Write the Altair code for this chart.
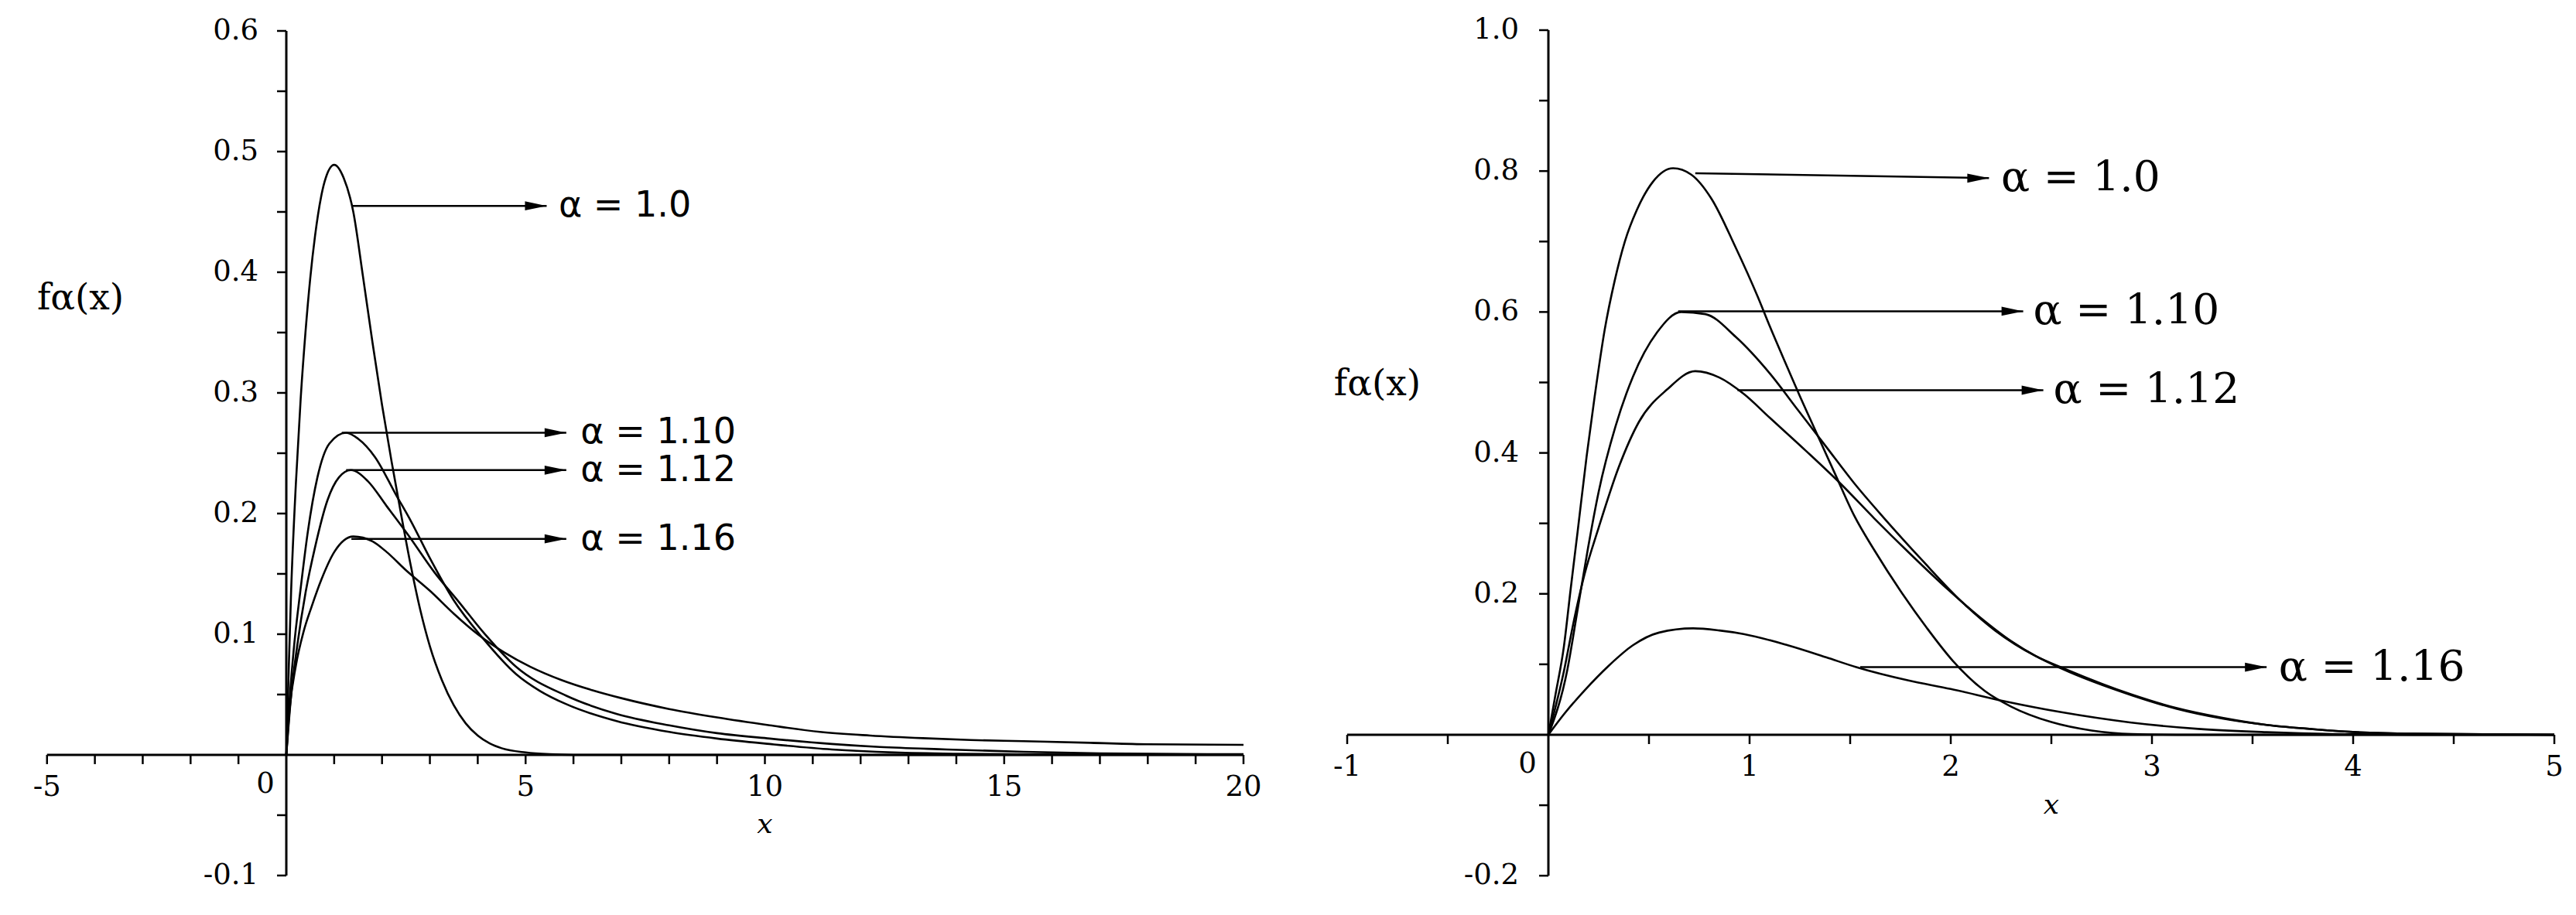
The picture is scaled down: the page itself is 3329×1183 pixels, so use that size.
import altair as alt
import pandas as pd

# ---------------- data: left panel ----------------
L_x_100 = [0, 0.05, 0.1, 0.2, 0.3, 0.4, 0.5, 0.6, 0.8, 1.0, 1.2, 1.4, 1.6, 1.8, 2.0, 2.2, 2.4, 2.6, 2.8, 3.0, 3.25, 3.5, 3.75, 4.0, 4.25, 4.5, 5.0, 5.5, 6.0, 20.0]
L_y_100 = [0, 0.07, 0.135, 0.225, 0.295, 0.35, 0.395, 0.43, 0.475, 0.489, 0.478, 0.45, 0.397, 0.342, 0.29, 0.243, 0.199, 0.157, 0.12, 0.09, 0.062, 0.041, 0.026, 0.016, 0.0095, 0.0055, 0.002, 0.0005, 0, 0]
L_x_110 = [0, 0.05, 0.15, 0.3, 0.45, 0.65, 0.9, 1.25, 1.5, 1.85, 2.3, 2.6, 3.0, 3.5, 4.1, 4.8, 5.3, 5.85, 6.9, 8.0, 9.0, 10.1, 11.4, 12.7, 14.0, 16.0, 20.0]
L_y_110 = [0, 0.035, 0.085, 0.138, 0.185, 0.23, 0.258, 0.267, 0.262, 0.247, 0.215, 0.194, 0.163, 0.128, 0.097, 0.067, 0.053, 0.042, 0.028, 0.019, 0.0135, 0.009, 0.0045, 0.002, 0.0009, 0.0003, 0.0001]
L_x_112 = [0, 0.1, 0.23, 0.4, 0.6, 0.86, 1.1, 1.35, 1.7, 2.1, 2.55, 3.1, 3.6, 4.15, 4.8, 5.85, 6.9, 8.0, 9.0, 10.1, 11.4, 12.4, 13.8, 15.4, 17.0, 20.0]
L_y_112 = [0, 0.049, 0.091, 0.134, 0.172, 0.211, 0.23, 0.236, 0.227, 0.206, 0.182, 0.151, 0.127, 0.10, 0.073, 0.049, 0.034, 0.0245, 0.018, 0.0135, 0.009, 0.0065, 0.0045, 0.0025, 0.0012, 0.0005]
L_x_116 = [0, 0.07, 0.2, 0.36, 0.53, 0.73, 1.0, 1.4, 1.8, 2.1, 2.5, 3.0, 3.5, 4.0, 4.55, 5.1, 5.75, 6.4, 7.0, 8.0, 9.0, 10.1, 11.15, 12.2, 13.3, 14.3, 15.4, 16.8, 18.0, 20.0]
L_y_116 = [0, 0.038, 0.074, 0.102, 0.123, 0.145, 0.168, 0.181, 0.177, 0.168, 0.153, 0.136, 0.117, 0.10, 0.085, 0.073, 0.062, 0.0535, 0.047, 0.038, 0.031, 0.0245, 0.019, 0.016, 0.0138, 0.0123, 0.0113, 0.010, 0.0088, 0.0083]

# ---------------- data: right panel ----------------
R_x_100 = [0, 0.034, 0.077, 0.11, 0.146, 0.19, 0.23, 0.28, 0.33, 0.38, 0.44, 0.52, 0.62, 0.71, 0.81, 0.93, 1.04, 1.1, 1.19, 1.24, 1.33, 1.43, 1.52, 1.62, 1.76, 1.88, 2.01, 2.17, 2.3, 2.5, 2.7, 2.9, 3.2, 5.0]
R_y_100 = [0, 0.055, 0.125, 0.205, 0.29, 0.395, 0.48, 0.575, 0.645, 0.70, 0.745, 0.785, 0.804, 0.795, 0.761, 0.692, 0.622, 0.58, 0.52, 0.487, 0.43, 0.367, 0.311, 0.262, 0.20, 0.152, 0.105, 0.062, 0.040, 0.018, 0.006, 0.001, 0, 0]
R_x_110 = [0, 0.094, 0.146, 0.197, 0.25, 0.334, 0.42, 0.54, 0.66, 0.78, 0.93, 1.1, 1.24, 1.38, 1.52, 1.67, 1.86, 2.05, 2.22, 2.42, 2.58, 2.9, 3.12, 3.35, 3.57, 3.8, 4.0, 4.3, 5.0]
R_y_110 = [0, 0.092, 0.179, 0.265, 0.345, 0.438, 0.508, 0.571, 0.60, 0.597, 0.565, 0.513, 0.461, 0.409, 0.357, 0.307, 0.247, 0.19, 0.148, 0.112, 0.092, 0.057, 0.038, 0.024, 0.014, 0.008, 0.004, 0.0015, 0]
R_x_112 = [0, 0.077, 0.129, 0.18, 0.25, 0.35, 0.45, 0.59, 0.73, 0.85, 0.97, 1.1, 1.28, 1.45, 1.62, 1.79, 1.96, 2.14, 2.3, 2.42, 2.55, 2.9, 3.12, 3.35, 3.57, 3.8, 4.0, 4.3, 5.0]
R_y_112 = [0, 0.09, 0.165, 0.228, 0.294, 0.38, 0.444, 0.49, 0.516, 0.507, 0.484, 0.45, 0.403, 0.357, 0.307, 0.259, 0.213, 0.168, 0.133, 0.112, 0.094, 0.056, 0.037, 0.023, 0.014, 0.008, 0.004, 0.0015, 0]
R_x_116 = [0, 0.077, 0.18, 0.30, 0.42, 0.55, 0.72, 0.85, 0.97, 1.19, 1.38, 1.53, 1.79, 2.0, 2.26, 2.55, 2.89, 3.23, 3.57, 3.9, 4.3, 5.0]
R_y_116 = [0, 0.029, 0.063, 0.098, 0.127, 0.145, 0.151, 0.148, 0.143, 0.127, 0.11, 0.096, 0.077, 0.065, 0.048, 0.032, 0.0176, 0.0084, 0.0037, 0.001, 0, 0]

# ---------------- annotations ----------------
labels = ["α = 1.0", "α = 1.10", "α = 1.12", "α = 1.16"]
L_arrow_x1 = [1.36, 1.16, 1.25, 1.36]
L_arrow_x2 = [5.44, 5.85, 5.85, 5.85]
L_arrow_y = [0.455, 0.267, 0.236, 0.179]
L_text_x = [5.69, 6.15, 6.15, 6.15]
R_arrow_x1 = [0.73, 0.645, 0.94, 1.55]
R_arrow_x2 = [2.19, 2.36, 2.46, 3.57]
R_arrow_y1 = [0.797, 0.601, 0.489, 0.096]
R_arrow_y2 = [0.790, 0.601, 0.489, 0.096]
R_text_x = [2.25, 2.41, 2.51, 3.63]

# ---------------- axes ----------------
L_xticks = [v for v in range(-5, 21) if v != 0]
L_xlab_vals = [-5, 5, 10, 15, 20]
L_xlab_text = ["-5", "5", "10", "15", "20"]
L_yticks = [round(-0.1 + 0.05 * i, 3) for i in range(15) if abs(-0.1 + 0.05 * i) > 1e-9]
L_ylab_vals = [-0.1, 0.1, 0.2, 0.3, 0.4, 0.5, 0.6]
L_ylab_text = ["-0.1", "0.1", "0.2", "0.3", "0.4", "0.5", "0.6"]
R_xticks = [v / 2 for v in range(-2, 11) if v != 0]
R_xlab_vals = [-1, 1, 2, 3, 4, 5]
R_xlab_text = ["-1", "1", "2", "3", "4", "5"]
R_yticks = [round(-0.2 + 0.1 * i, 3) for i in range(13) if abs(-0.2 + 0.1 * i) > 1e-9]
R_ylab_vals = [-0.2, 0.2, 0.4, 0.6, 0.8, 1.0]
R_ylab_text = ["-0.2", "0.2", "0.4", "0.6", "0.8", "1.0"]

SERIF = "DejaVu Serif"
LW = 2.6
TICKFONT = 37


def curves_df(xs_list, ys_list):
    rows = []
    for s, (xs, ys) in enumerate(zip(xs_list, ys_list)):
        for i, (a, b) in enumerate(zip(xs, ys)):
            rows.append({"x": a, "y": b, "s": s, "i": i})
    return pd.DataFrame(rows)


def panel(cdf, xdom, ydom, W, H, xaxis, yaxis, xticks, yticks,
          xlab_vals, xlab_text, ylab_vals, ylab_text, ydx,
          arrows, ann_font, ann_size, flabel, xtitle):
    xs = alt.Scale(domain=xdom, nice=False, zero=False)
    ys = alt.Scale(domain=ydom, nice=False, zero=False)

    def X(f):
        return alt.X(f + ":Q", scale=xs, axis=None)

    def Y(f):
        return alt.Y(f + ":Q", scale=ys, axis=None)

    lines = alt.Chart(cdf).mark_line(color="black", strokeWidth=LW, interpolate="monotone").encode(
        x=X("x"), y=Y("y"), detail="s:N", order="i:Q")

    ax_df = pd.DataFrame({"x1": [xaxis[0], 0], "x2": [xaxis[1], 0],
                          "y1": [0, yaxis[0]], "y2": [0, yaxis[1]]})
    axes = alt.Chart(ax_df).mark_rule(color="black", strokeWidth=3).encode(
        x=X("x1"), x2="x2:Q", y=Y("y1"), y2="y2:Q")

    xt_df = pd.DataFrame({"v": xticks, "z": [0] * len(xticks)})
    xt = alt.Chart(xt_df).mark_rule(color="black", strokeWidth=2.5, y2Offset=12).encode(
        x=X("v"), y=Y("z"), y2="z:Q")
    yt_df = pd.DataFrame({"v": yticks, "z": [0] * len(yticks)})
    yt = alt.Chart(yt_df).mark_rule(color="black", strokeWidth=2.5, x2Offset=-12).encode(
        y=Y("v"), x=X("z"), x2="z:Q")

    xl_df = pd.DataFrame({"v": xlab_vals, "t": xlab_text, "z": [0] * len(xlab_vals)})
    xl = alt.Chart(xl_df).mark_text(font=SERIF, fontSize=TICKFONT, dy=42, color="black").encode(
        x=X("v"), y=Y("z"), text="t:N")
    zl = alt.Chart(pd.DataFrame({"v": [0], "z": [0], "t": ["0"]})).mark_text(
        font=SERIF, fontSize=TICKFONT, dy=38, dx=-27, color="black").encode(x=X("v"), y=Y("z"), text="t:N")
    yl_df = pd.DataFrame({"v": ylab_vals, "t": ylab_text, "z": [0] * len(ylab_vals)})
    yl = alt.Chart(yl_df).mark_text(font=SERIF, fontSize=TICKFONT, dx=ydx, align="right",
                                    baseline="middle", color="black").encode(
        x=X("z"), y=Y("v"), text="t:N")

    ar_df = pd.DataFrame({"x1": arrows[0], "x2": arrows[1], "y1": arrows[2], "y2": arrows[3],
                          "tx": arrows[4], "t": labels})
    ar = alt.Chart(ar_df).mark_rule(color="black", strokeWidth=2.5).encode(
        x=X("x1"), x2="x2:Q", y=Y("y1"), y2="y2:Q")
    heads = alt.Chart(ar_df).mark_point(shape="M0,0L-2,-0.42L-2,0.42Z", size=784, filled=True,
                                        color="black", opacity=1, strokeWidth=0).encode(
        x=X("x2"), y=Y("y2"))
    at = alt.Chart(ar_df).mark_text(font=ann_font, fontSize=ann_size, align="left",
                                    baseline="middle", color="black").encode(
        x=X("tx"), y=Y("y2"), text="t:N")

    fl = alt.Chart(pd.DataFrame({"x": [flabel[0]], "y": [flabel[1]], "t": ["fα(x)"]})).mark_text(
        font=SERIF, fontSize=47, baseline="middle", color="black").encode(x=X("x"), y=Y("y"), text="t:N")
    xtl = alt.Chart(pd.DataFrame({"x": [xtitle[0]], "y": [xtitle[1]], "t": ["x"]})).mark_text(
        font=SERIF, fontSize=36, fontStyle="italic", baseline="middle", color="black").encode(
        x=X("x"), y=Y("y"), text="t:N")

    return alt.layer(lines, axes, xt, yt, xl, zl, yl, ar, heads, at, fl, xtl).properties(
        width=W, height=H)


left = panel(curves_df([L_x_100, L_x_110, L_x_112, L_x_116], [L_y_100, L_y_110, L_y_112, L_y_116]),
             [-5.853, 21.504], [-0.1276, 0.6205], 1692, 1167,
             [-5, 20], [-0.1, 0.6], L_xticks, L_yticks, L_xlab_vals, L_xlab_text,
             L_ylab_vals, L_ylab_text, -36,
             [L_arrow_x1, L_arrow_x2, L_arrow_y, L_arrow_y, L_text_x], "DejaVu Sans", 46,
             (-4.3, 0.378), (10.0, -0.058))

right = panel(curves_df([R_x_100, R_x_110, R_x_112, R_x_116], [R_y_100, R_y_110, R_y_112, R_y_116]),
              [-1.1577, 5.0769], [-0.247, 1.034], 1621, 1167,
              [-1, 5], [-0.2, 1.0], R_xticks, R_yticks, R_xlab_vals, R_xlab_text,
              R_ylab_vals, R_ylab_text, -38,
              [R_arrow_x1, R_arrow_x2, R_arrow_y1, R_arrow_y2, R_text_x], SERIF, 55,
              (-0.85, 0.497), (2.5, -0.10))

chart = alt.hconcat(left, right, spacing=0).properties(padding=0).configure_view(stroke=None)
chart.save("out.html", embed_options={"renderer": "svg", "actions": False})
